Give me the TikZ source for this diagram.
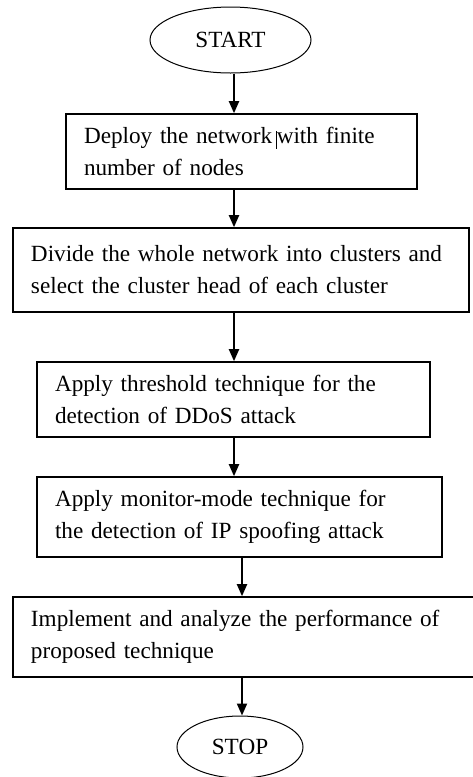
\documentclass[tikz,border=0pt]{standalone}
\usepackage{fontspec}
\setmainfont{Liberation Serif}
\usetikzlibrary{shapes.geometric,arrows.meta}

\begin{document}
\begin{tikzpicture}[x=0.5pt,y=-0.5pt,
    font=\fontsize{11.6}{16}\selectfont,
    term/.style={draw, line width=0.5pt, ellipse, inner sep=0pt},
    stepbox/.style={draw, line width=0.8pt, rectangle, inner xsep=9pt,
      inner ysep=0pt, align=left},
    arr/.style={line width=1pt, -{Triangle[width=5pt,length=6pt]}}]
  \useasboundingbox (0,0) rectangle (472,777);

  % Inicio y fin
  \node[term, minimum width=80.5pt, minimum height=33pt] (start) at (230.5,40) {START};
  \node[term, minimum width=63pt, minimum height=31pt] (stop) at (240,747) {STOP};

  % Pasos
  \node[stepbox, text width=157.5pt, minimum height=37.5pt] (deploy) at (241.5,151.5)
    {Deploy the network\,\rule[-2.5pt]{0.4pt}{9pt}with finite\\number of nodes};
  \node[stepbox, text width=210pt, minimum height=42pt] (divide) at (241,270)
    {Divide the whole network into clusters and\\select the cluster head of each cluster};
  \node[stepbox, text width=178.5pt, minimum height=37.5pt] (thresh) at (233.5,399.5)
    {Apply threshold technique for the\\detection of DDoS attack};
  \node[stepbox, text width=184.5pt, minimum height=40pt] (monitor) at (239.5,517)
    {Apply monitor-mode technique for\\the detection of IP spoofing attack};
  \node[stepbox, text width=214.5pt, minimum height=40pt] (impl) at (245.5,637)
    {Implement and analyze the performance of\\proposed technique};

  % Columnas de flechas
  \coordinate (colA) at (234,0);
  \coordinate (colB) at (242,0);

  % Flechas
  \draw[arr] (start.south -| colA) -- (deploy.north -| colA);
  \draw[arr] (deploy.south -| colA) -- (divide.north -| colA);
  \draw[arr] (divide.south -| colA) -- (thresh.north -| colA);
  \draw[arr] (thresh.south -| colA) -- (monitor.north -| colA);
  \draw[arr] (monitor.south -| colB) -- (impl.north -| colB);
  \draw[arr] (impl.south -| colB) -- (stop.north -| colB);

\end{tikzpicture}
\end{document}
